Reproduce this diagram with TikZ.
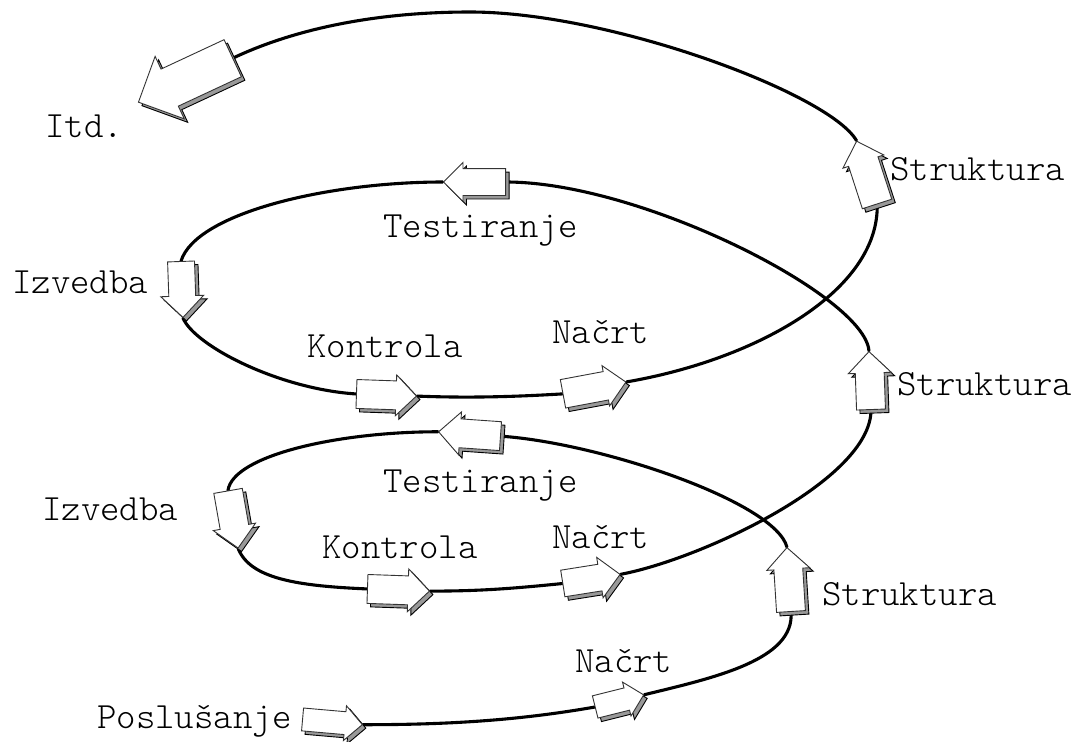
\documentclass[tikz,border=0pt]{standalone}
\usepackage{fontspec}
\newfontfamily\lblfont{Latin Modern Mono Light}
\usetikzlibrary{shapes.arrows,calc}
\pgfdeclarelayer{background}
\pgfsetlayers{background,main}
\tikzset{
  spiral/.style={line width=3.1pt, line cap=round, draw=black},
  arrface/.style={single arrow, draw=black!80, line width=0.9pt, fill=white,
    inner xsep=0pt, single arrow tip angle=90, anchor=tail},
  arrside/.style={arrface, fill=black!40, draw=black},
  lbl/.style={font=\lblfont\fontsize{37}{37}\selectfont, anchor=base west, inner sep=0pt},
}
% name, x, y (middle), angle, length, half shaft, head extend
\newcommand\blk[7]{%
  \node[arrside, rotate=#4, minimum height=#5pt, inner ysep=#6pt,
        single arrow head extend=#7pt]
        (#1s) at ($(#2,#3)+({#4+180}:{#5*0.5pt})+(3.5,3.5)$) {};
  \node[arrface, rotate=#4, minimum height=#5pt, inner ysep=#6pt,
        single arrow head extend=#7pt]
        (#1) at ($(#2,#3)+({#4+180}:{#5*0.5pt})$) {};
}
\begin{document}
\begin{tikzpicture}[x=1pt,y=-1pt]
\begin{pgfonlayer}{background}
\fill[white] (0,0) rectangle (1085,742);
\end{pgfonlayer}
\useasboundingbox (0,0) rectangle (1085,742);

% arrows
\blk{pos}{332}{722}{-5}{60}{11}{6}
\blk{nb}{619}{701}{14}{50}{11}{6}
\blk{sa}{789}{580}{93.6}{64}{14}{7}
\blk{lt}{470}{434}{176}{62}{14}{7}
\blk{li}{233}{519}{-80}{58}{14}{7}
\blk{lk}{398}{590}{-2}{62}{14}{7}
\blk{ln}{591}{579}{9}{58}{13}{7}
\blk{sb}{870}{381}{92}{58}{14}{7}
\blk{mt}{475}{182}{180}{62}{13}{6}
\blk{mi}{182}{289}{-88}{56}{13}{8}
\blk{mk}{386}{395}{-2}{60}{14}{6}
\blk{mn}{594}{388}{10.6}{64}{14}{6}
\blk{sc}{867}{173}{108}{66}{15}{6}
\blk{itd}{186}{80}{205}{104}{20}{14}

\coordinate (peak) at (470,12);

\begin{pgfonlayer}{background}
\draw[spiral] (pos.tip) .. controls +(80,0) and +(-80,14) .. (nb.tail);
\draw[spiral] (nb.tip) .. controls +(70,-17) and +(4,48) .. (sa.tail);
\draw[spiral] (sa.tip) .. controls +(-12,-45) and +(100,7) .. (lt.tail);
\draw[spiral] (lt.tip) .. controls +(-100,0) and +(5,-35) .. (li.tail);
\draw[spiral] (li.tip) .. controls +(12,30) and +(-70,-3) .. (lk.tail);
\draw[spiral] (lk.tip) .. controls +(50,0) and +(-50,5) .. (ln.tail);
\draw[spiral] (ln.tip) .. controls +(80,-15) and +(0,70) .. (sb.tail);
\draw[spiral] (sb.tip) .. controls +(-4,-55) and +(135,0) .. (mt.tail);
\draw[spiral] (mt.tip) .. controls +(-115,0) and +(15,-48) .. (mi.tail);
\draw[spiral] (mi.tip) .. controls +(12,28) and +(-77,-5) .. (mk.tail);
\draw[spiral] (mk.tip) .. controls +(50,2) and +(-50,3) .. (mn.tail);
\draw[spiral] (mn.tip) .. controls +(133,-23) and +(2,85) .. (sc.tail);
\draw[spiral] (sc.tip) .. controls +(-27,-47) and +(140,0) .. (peak)
                      .. controls +(-120,0) and +(40,-19) .. (itd.tail);
\end{pgfonlayer}

% labels
\node[lbl] (t1) at (45,137) {Itd.};
\node[lbl] (t2) at (890,180) {Struktura};
\node[lbl] (t3) at (383,237) {Testiranje};
\node[lbl] (t4) at (12,293) {Izvedba};
\node[lbl] (t5) at (307,357) {Kontrola};
\node[lbl] (t6) at (552,343) {Načrt};
\node[lbl] (t7) at (897,395) {Struktura};
\node[lbl] (t8) at (383,492) {Testiranje};
\node[lbl] (t9) at (42,520) {Izvedba};
\node[lbl] (t10) at (322,558) {Kontrola};
\node[lbl] (t11) at (552,548) {Načrt};
\node[lbl] (t12) at (822,605) {Struktura};
\node[lbl] (t13) at (575,672) {Načrt};
\node[lbl] (t14) at (97,728) {Poslušanje};
\end{tikzpicture}
\end{document}
